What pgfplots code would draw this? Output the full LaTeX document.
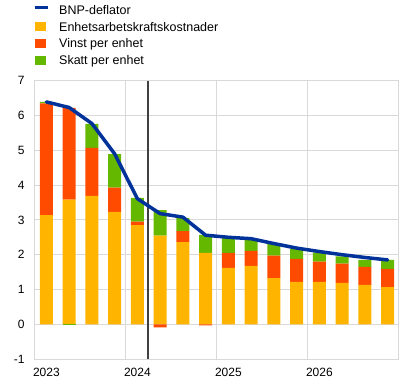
\documentclass[border=0pt]{standalone}
\usepackage{fontspec}
\setmainfont{Liberation Sans}
\usepackage{pgfplots}
\pgfplotsset{compat=1.18}
\definecolor{ecbblue}{HTML}{003299}
\definecolor{ecbyellow}{HTML}{FFB400}
\definecolor{ecbred}{HTML}{FF4B00}
\definecolor{ecbgreen}{HTML}{65B800}
\definecolor{gridgray}{HTML}{D9D9D9}
\definecolor{vline}{HTML}{404040}
\pgfplotsset{common/.style={width=364pt, height=278.4pt, scale only axis,
  xmin=-0.5, xmax=15.5, ymin=-1, ymax=7, at={(35pt,26.9pt)}, anchor=south west},
  boxlegend/.style={legend image code/.code={\fill[##1] (0pt,0pt) rectangle (11.5pt,9pt);}},
  linelegend/.style={legend image code/.code={\draw[##1] (0pt,7.3pt) -- (13pt,7.3pt);}}}
\begin{document}
\begin{tikzpicture}
\useasboundingbox (0,0) rectangle (416pt,386pt);
\begin{axis}[common, ybar stacked, bar width=0.57,
  axis line style={gridgray, line width=1pt},
  ytick={-1,0,...,7}, ymajorgrids, grid style={gridgray, line width=1pt},
  xtick={0,4,8,12}, xticklabels={2023,2024,2025,2026},
  extra x ticks={3.5,7.5,11.5}, extra x tick labels={},
  extra x tick style={xmajorgrids=true, grid style={gridgray, line width=1pt}},
  major tick length=0pt,
  tick label style={font=\fontsize{12}{14}\selectfont, black},
  /pgf/number format/assume math mode=true,
  yticklabel style={xshift=-7pt},
  xticklabel style={yshift=-5pt},
  legend style={at={(axis description cs:-0.0055,1.271)}, anchor=north west,
    draw=none, fill=none, inner sep=0pt, row sep=4.7pt, column sep=10pt,
    font=\fontsize{12.5}{14}\selectfont,
    nodes={inner sep=0pt, text height=9pt, text depth=3pt, anchor=base west}},
  legend cell align=left,
]
\addlegendimage{ecbblue, line width=3pt, linelegend}
\addlegendentry{BNP-deflator}
\addplot[fill=ecbyellow, draw=none, boxlegend] coordinates {
(0,3.14) (1,3.58) (2,3.69) (3,3.23) (4,2.85) (5,2.55) (6,2.36) (7,2.05)
(8,1.62) (9,1.68) (10,1.33) (11,1.22) (12,1.22) (13,1.19) (14,1.13) (15,1.07)};
\addlegendentry{Enhetsarbetskraftskostnader}
\addplot[fill=ecbred, draw=none, boxlegend] coordinates {
(0,3.21) (1,2.64) (2,1.38) (3,0.70) (4,0.10) (5,0) (6,0.32) (7,0)
(8,0.43) (9,0.43) (10,0.64) (11,0.66) (12,0.58) (13,0.55) (14,0.52) (15,0.52)};
\addlegendentry{Vinst per enhet}
\addplot[fill=ecbgreen, draw=none, boxlegend] coordinates {
(0,0.04) (1,0) (2,0.69) (3,0.96) (4,0.68) (5,0.73) (6,0.37) (7,0.52)
(8,0.45) (9,0.35) (10,0.36) (11,0.28) (12,0.26) (13,0.21) (14,0.20) (15,0.26)};
\addlegendentry{Skatt per enhet}
\end{axis}
\begin{axis}[common, hide axis]
\addplot[ybar, bar width=0.57, bar shift=0pt, fill=ecbgreen, draw=none] coordinates {(1,-0.03)};
\addplot[ybar, bar width=0.57, bar shift=0pt, fill=ecbred, draw=none] coordinates {(5,-0.09) (7,-0.03)};
\addplot[vline, line width=2pt, mark=none] coordinates {(4.45,-1) (4.45,7)};
\addplot[ecbblue, line width=3.5pt, line join=round, line cap=round, mark=none] coordinates {
(0,6.39) (1,6.23) (2,5.77) (3,4.90) (4,3.61) (5,3.18) (6,3.08) (7,2.56)
(8,2.50) (9,2.46) (10,2.32) (11,2.19) (12,2.09) (13,2.00) (14,1.92) (15,1.85)};
\end{axis}
\end{tikzpicture}
\end{document}
